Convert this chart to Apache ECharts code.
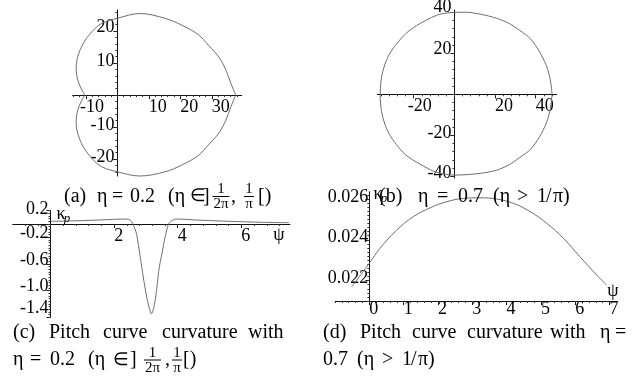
<!DOCTYPE html>
<html><head><meta charset="utf-8">
<script src="https://cdn.jsdelivr.net/npm/echarts@6/dist/echarts.min.js"></script>
<style>html,body{margin:0;padding:0;background:#fff}#c{width:643px;height:379px}</style>
</head><body><div id="c"></div>
<script>
// ---------------- data ----------------
// (a) pitch curve, eta = 0.2 (closed loop, x / y)
const aX = [37.6, 36.1, 34.4, 32.3, 28.9, 25.7, 20.4, 15.1, 7.2, 0, -5, -8.1, -10.8, -12.6, -13.1, -12.6, -11.3, -10.5,
            -11.3, -12.6, -13.1, -12.6, -10.8, -8.1, -5, 0, 7.2, 15.1, 20.4, 25.7, 28.9, 32.3, 34.4, 36.1, 37.6];
const aY = [0, 3.6, 8.0, 11.8, 15.6, 18.9, 21.9, 24.0, 25.5, 24.0, 22.4, 19.8, 16.2, 12.0, 8.3, 4.7, 1.6, 0,
            -1.6, -4.7, -8.3, -12.0, -16.2, -19.8, -22.4, -24.0, -25.3, -24.0, -21.9, -18.9, -15.6, -11.8, -8.0, -3.6, 0];
// (b) pitch curve, eta = 0.7
const bX = [48, 47.5, 46.5, 45, 42, 37.5, 32.1, 27, 20.7, 13, 5.9, -2, -8.8, -18.6, -24, -28.5, -32, -34.2, -35.8, -36.5,
            -35.8, -34.2, -32, -28.5, -24, -17, -8.8, 0.2, 13, 20.7, 27, 32.1, 37.5, 42, 45, 46.5, 47.5, 48];
const bY = [0, 5, 10, 14.5, 20.5, 27, 31.2, 34.5, 37.1, 39, 40, 39.8, 38.5, 33.5, 29.5, 24.5, 19.5, 14.5, 8.5, 0,
            -8.5, -14.5, -19.5, -24.5, -29.5, -34, -38, -39.4, -38.5, -37.0, -34.3, -30.8, -26.8, -20.5, -14.5, -10, -5, 0];
// (c) curvature, eta = 0.2
const cPsi   = [0, 0.5, 0.93, 1.5, 1.98, 2.4, 2.5, 2.55, 2.6, 2.65, 2.71, 2.81, 2.92, 3.03, 3.12, 3.17, 3.24, 3.32, 3.41, 3.5, 3.6, 3.7, 3.75, 3.81, 3.97, 4.6, 5.64, 6.69, 7.5];
const cKappa = [0.04, 0.045, 0.05, 0.06, 0.07, 0.075, 0.06, 0.035, -0.01, -0.07, -0.16, -0.46, -0.81, -1.11, -1.29, -1.35, -1.27, -1.05, -0.68, -0.45, -0.2, -0.01, 0.025, 0.05, 0.075, 0.06, 0.04, 0.025, 0.02];
// (d) curvature, eta = 0.7
const dPsi   = [-0.51, 0.02, 0.31, 0.8, 1.28, 1.77, 2.26, 2.74, 3.23, 3.71, 4.2, 4.69, 5.17, 5.66, 6.14, 6.63, 6.92];
const dKappa = [0.0217, 0.0229, 0.02358, 0.02448, 0.02513, 0.02557, 0.02587, 0.02603, 0.02606, 0.0260, 0.02579, 0.02538, 0.02481, 0.02407, 0.02317, 0.02227, 0.02178];

// tick labels
const aXTicks = [-10, 10, 20, 30];        const aXLabels = ['-10', '10', '20', '30'];
const aYTicks = [20, 10, -10, -20];       const aYLabels = ['20', '10', '-10', '-20'];
const bXTicks = [-20, 20, 40];            const bXLabels = ['-20', '20', '40'];
const bYTicks = [40, 20, -20, -40];       const bYLabels = ['40', '20', '-20', '-40'];
const cXTicks = [2, 4, 6];                const cXLabels = ['2', '4', '6'];
const cYTicks = [0.2, -0.2, -0.6, -1.0, -1.4]; const cYLabels = ['0.2', '-0.2', '-0.6', '-1.0', '-1.4'];
const dXTicks = [0, 1, 2, 3, 4, 5, 6, 7]; const dXLabels = ['0', '1', '2', '3', '4', '5', '6', '7'];
const dYTicks = [0.022, 0.024, 0.026];    const dYLabels = ['0.022', '0.024', '0.026'];

// ---------------- layout ----------------
const grids = [
  { left: 72.7, top: 10, width: 169, height: 166 },
  { left: 377.3, top: 10, width: 179.4, height: 168 },
  { left: 12.7, top: 210.7, width: 277.3, height: 106.5 },
  { left: 335, top: 191.7, width: 280, height: 109.3 }
];
const ranges = [
  { x: [-14.2, 39.5], y: [-25.3, 26.6] },
  { x: [-37.9, 50.3], y: [-40.8, 41.1] },
  { x: [-1.19, 7.53], y: [-1.4, 0.2] },
  { x: [-1.0, 7.16], y: [0.021, 0.02636] }
];

// ---------------- helpers ----------------
const FONT = 'Liberation Serif';
function steps(a, b, s) { const out = []; const n = Math.round((b - a) / s); for (let i = 0; i <= n; i++) out.push(+(a + i * s).toFixed(6)); return out; }
function pairs(xs, ys) { return xs.map((x, i) => [x, ys[i]]); }
// pixel distance from the grid's bottom/left edge to the other axis' zero (axes cross at the origin, Maple style)
function zeroShift(range, size) { const [lo, hi] = range; return (lo < 0 && hi > 0) ? (0 - lo) / (hi - lo) * size : 0; }
// approximate label width at 18px serif (used to start the digits at the tick, minus sign hanging left)
function labelPad(l) {
  let w = 0; for (const ch of l) w += ch === '-' ? 6 : ch === '.' ? 4.5 : 9;
  return Math.max(0, w - (l[0] === '-' ? 12 : 0));
}
function fmt(dim, ticks, labels, shifts) {
  const rich = {};
  labels.forEach((l, i) => {
    const s = shifts ? shifts[i] : 0;
    const pad = dim === 'x' ? [0, 0, 0, labelPad(l)] : (s >= 0 ? [0, 0, 2 * s, 0] : [-2 * s, 0, 0, 0]);
    rich['s' + i] = { fontFamily: FONT, fontSize: 18, color: '#000', padding: pad };
  });
  return {
    rich,
    formatter: function (v) {
      let k = 0, best = 1e9;
      ticks.forEach((t, i) => { const d = Math.abs(t - v); if (d < best) { best = d; k = i; } });
      return '{s' + k + '|' + labels[k] + '}';
    }
  };
}
function axisPair(dim, gi, ticks, labels, minors, margin, shifts) {
  const gr = grids[gi], rg = ranges[gi];
  const range = dim === 'x' ? rg.x : rg.y;
  const off = dim === 'x' ? -zeroShift(rg.y, gr.height) : -zeroShift(rg.x, gr.width);
  const position = dim === 'x' ? 'bottom' : 'left';
  const f = fmt(dim, ticks, labels, shifts);
  const major = {
    type: 'value', gridIndex: gi, min: range[0], max: range[1], position, offset: off,
    axisLine: { show: true, onZero: false, lineStyle: { color: '#111', width: 1 } },
    axisTick: { show: true, customValues: ticks, length: 4, lineStyle: { color: '#111', width: 1 } },
    axisLabel: { show: true, customValues: ticks, margin, color: '#000', fontFamily: FONT, fontSize: 18,
                 align: dim === 'x' ? 'center' : 'right', formatter: f.formatter, rich: f.rich },
    splitLine: { show: false }
  };
  const minor = {
    type: 'value', gridIndex: gi, min: range[0], max: range[1], position, offset: off,
    axisLine: { show: false, onZero: false },
    axisTick: { show: true, customValues: minors, length: 2, lineStyle: { color: '#333', width: 1 } },
    axisLabel: { show: false }, splitLine: { show: false }
  };
  return [major, minor];
}
function txt(text, x, y, size, align, extra) {
  return Object.assign({ type: 'text', x, y, z: 100,
    style: Object.assign({ text, fontFamily: FONT, fontSize: size, fill: '#000', align: align || 'left', verticalAlign: 'middle' }, extra || {}) });
}
function bar(x1, x2, y) { return { type: 'line', z: 100, shape: { x1, y1: y, x2, y2: y }, style: { stroke: '#000', lineWidth: 1 } }; }
function frac(cx, yBar, den, w) {
  return [txt('1', cx, yBar - 7, 15, 'center'), bar(cx - w / 2, cx + w / 2, yBar), txt(den, cx, yBar + 8, 15, 'center')];
}

// ---------------- axes ----------------
const xAxes = [].concat(
  axisPair('x', 0, aXTicks, aXLabels, steps(-14, 38, 2), 3),
  axisPair('x', 1, bXTicks, bXLabels, steps(-36, 48, 4), 3),
  axisPair('x', 2, cXTicks, cXLabels, steps(-0.8, 7.2, 0.4), 3),
  axisPair('x', 3, dXTicks, dXLabels, steps(-1.0, 7.0, 0.2), -1)
);
const yAxes = [].concat(
  axisPair('y', 0, aYTicks, aYLabels, steps(-24, 26, 2), 3, [4, 2, 2, 2]),
  axisPair('y', 1, bYTicks, bYLabels, steps(-40, 40, 4), 3, [5, 4, 2, 3]),
  axisPair('y', 2, cYTicks, cYLabels, steps(-1.4, 0.2, 0.04), 2, [1, 4, 4, 4, 9]),
  axisPair('y', 3, dYTicks, dYLabels, steps(0.021, 0.0262, 0.0002), 1, [2, 3, 2])
);

const line = (xi, data, sm) => ({ type: 'line', xAxisIndex: xi, yAxisIndex: xi, data, symbol: 'none', showSymbol: false,
  smooth: sm, clip: false, lineStyle: { color: '#6e6e6e', width: 1 }, silent: true, animation: false });

// ---------------- captions / axis names ----------------
const g = [];
// (a)
g.push(txt('(a)', 64, 196.5, 20), txt('η', 97, 196.5, 20), txt('=', 112, 196.5, 20), txt('0.2', 130, 196.5, 20),
       txt('(η', 168, 196.5, 20), txt('∈', 190, 196.5, 18), txt(']', 203, 196.5, 20));
g.push(...frac(221, 196.5, '2π', 17), txt(',', 231, 196.5, 20), ...frac(249, 196.5, 'π', 10), txt('[)', 258, 196.5, 20));
// (c) axis names
g.push(txt('κ', 61, 214, 18, 'center'), txt('p', 67, 219, 13, 'center', { fontStyle: 'italic' }), txt('ψ', 279, 235, 18, 'center'));
// (d) axis names
g.push(txt('κ', 378, 194, 18, 'center'), txt('p', 384, 199, 13, 'center', { fontStyle: 'italic' }), txt('ψ', 613, 291, 18, 'center'));
// (b)
g.push(txt('(b)', 379, 196.5, 20), txt('η', 418, 196.5, 20), txt('=', 437, 196.5, 20), txt('0.7', 458, 196.5, 20),
       txt('(η', 493, 196.5, 20), txt('>', 517, 196.5, 20), txt('1', 537, 196.5, 20), txt('/', 546, 196.5, 20), txt('π)', 553, 196.5, 20));
// (c)
g.push(txt('(c)', 13, 332.5, 20), txt('Pitch', 49, 332.5, 20), txt('curve', 103, 332.5, 20), txt('curvature', 162, 332.5, 20), txt('with', 248, 332.5, 20));
g.push(txt('η', 13, 360, 20), txt('=', 30, 360, 20), txt('0.2', 50, 360, 20), txt('(η', 88, 360, 20), txt('∈', 113, 360, 18), txt(']', 130, 360, 20));
g.push(...frac(152.5, 360, '2π', 17), txt(',', 165, 360, 20), ...frac(177, 360, 'π', 10), txt('[)', 183, 360, 20));
// (d)
g.push(txt('(d)', 323, 332.5, 20), txt('Pitch', 360, 332.5, 20), txt('curve', 412, 332.5, 20), txt('curvature', 467, 332.5, 20),
       txt('with', 550, 332.5, 20), txt('η', 600, 332.5, 20), txt('=', 615, 332.5, 20));
g.push(txt('0.7', 323, 360, 20), txt('(η', 357, 360, 20), txt('>', 382, 360, 20), txt('1', 402, 360, 20), txt('/', 411, 360, 20), txt('π)', 418, 360, 20));

const chart = echarts.init(document.getElementById('c'), null, { renderer: 'canvas' });
chart.setOption({
  animation: false,
  backgroundColor: '#fff',
  grid: grids.map(gr => Object.assign({ containLabel: false, outerBoundsMode: 'none' }, gr)),
  xAxis: xAxes,
  yAxis: yAxes,
  series: [
    line(0, pairs(aX, aY), 0.35),
    line(2, pairs(bX, bY), 0.3),
    line(4, pairs(cPsi, cKappa), 0.25),
    line(6, pairs(dPsi, dKappa), 0.4)
  ],
  graphic: g
});
</script></body></html>
